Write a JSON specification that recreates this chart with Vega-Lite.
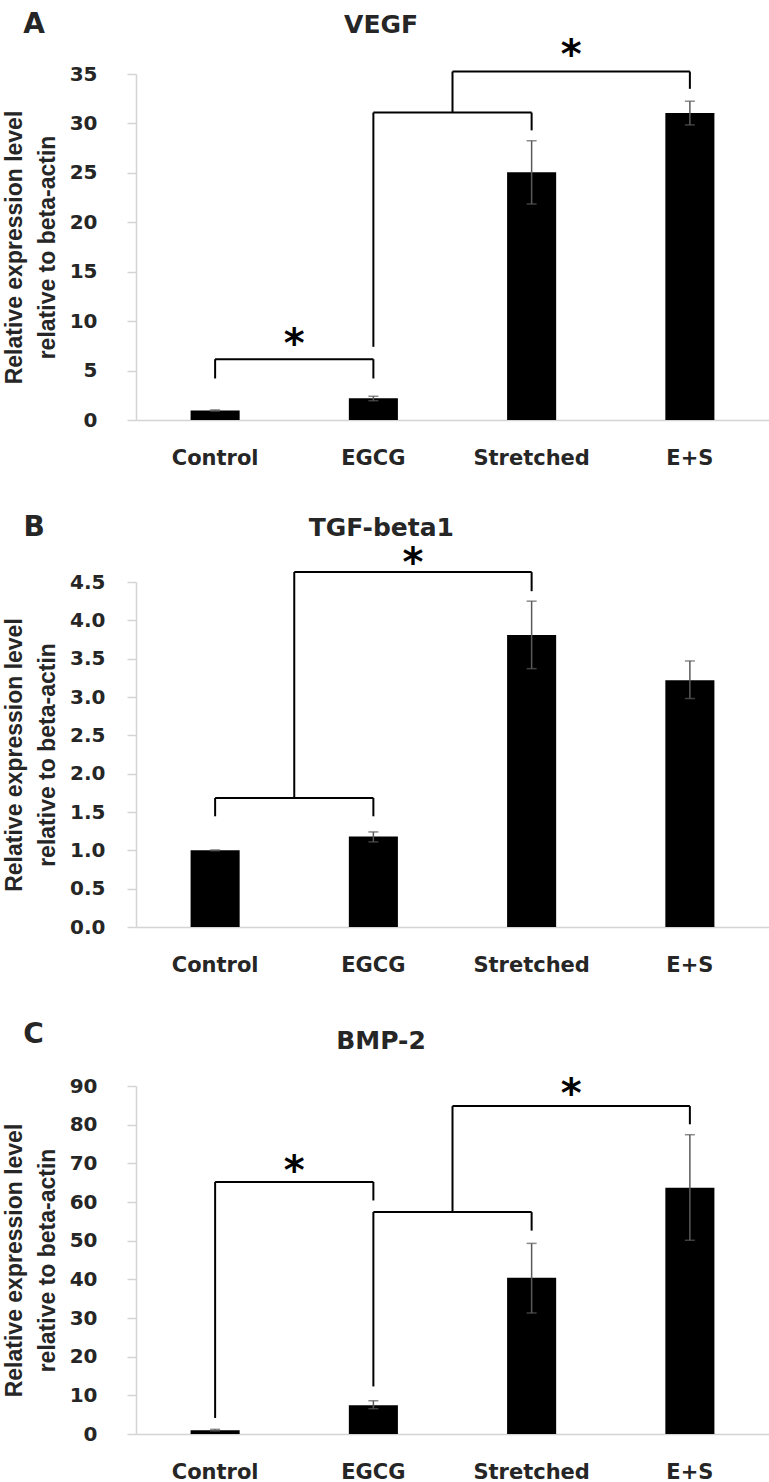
{
  "$schema": "https://vega.github.io/schema/vega-lite/v6.json",
  "padding": {"left": 3, "top": 11, "right": 2, "bottom": 2},
  "background": "white",
  "spacing": 46,
  "vconcat": [
    {
      "title": {"text": "A", "anchor": "start", "fontSize": 28, "offset": -26, "dx": 20},
      "vconcat": [
        {
          "title": {"text": "VEGF", "offset": -2, "dx": -5},
          "width": 633,
          "height": 346,
          "encoding": {
            "x": {"field": "g", "type": "nominal", "scale": {"domain": ["Control", "EGCG", "Stretched", "E+S"], "paddingInner": 0.69, "paddingOuter": 0.345}, "axis": {"title": null}},
            "y": {"field": "y", "type": "quantitative", "scale": {"domain": [0, 35], "nice": false}, "axis": {"title": ["Relative expression level", "relative to beta-actin"], "values": [0, 5, 10, 15, 20, 25, 30, 35], "labelPadding": 30}}
          },
          "layer": [
            {
              "data": {"values": [
                {"g": "Control", "y": 0.95},
                {"g": "EGCG", "y": 2.2},
                {"g": "Stretched", "y": 25.05},
                {"g": "E+S", "y": 31.05}
              ]},
              "mark": {"type": "bar", "color": "black"}
            },
            {
              "data": {"values": [
                {"g": "Control", "y": 0.9, "y2": 1.02},
                {"g": "EGCG", "y": 1.95, "y2": 2.4},
                {"g": "Stretched", "y": 21.85, "y2": 28.25},
                {"g": "E+S", "y": 29.85, "y2": 32.25}
              ]},
              "mark": {"type": "errorbar", "ticks": true, "size": 10, "thickness": 1.5, "color": "#5a5a5a"},
              "encoding": {"y2": {"field": "y2"}}
            },
            {
              "data": {"values": [
                {"g": "Control", "g2": "EGCG", "y": 6.15},
                {"g": "EGCG", "g2": "Stretched", "y": 31.1}
              ]},
              "mark": {"type": "rule", "color": "black", "strokeWidth": 2},
              "encoding": {"x2": {"field": "g2"}}
            },
            {
              "data": {"values": [
                {"g": "Control", "y": 4.2, "y2": 6.15},
                {"g": "EGCG", "y": 4.2, "y2": 6.15},
                {"g": "EGCG", "y": 7.4, "y2": 31.1},
                {"g": "Stretched", "y": 29.3, "y2": 31.1},
                {"g": "E+S", "y": 33.5, "y2": 35.25}
              ]},
              "mark": {"type": "rule", "color": "black", "strokeWidth": 2},
              "encoding": {"y2": {"field": "y2"}}
            },
            {
              "data": {"values": [
                {"g": "EGCG", "y": 31.1, "y2": 35.25}
              ]},
              "mark": {"type": "rule", "color": "black", "strokeWidth": 2},
              "encoding": {
                "x": {"field": "g", "type": "nominal", "bandPosition": 2.113, "scale": {"domain": ["Control", "EGCG", "Stretched", "E+S"], "paddingInner": 0.69, "paddingOuter": 0.345}, "axis": {"title": null}},
                "y2": {"field": "y2"}
              }
            },
            {
              "data": {"values": [
                {"g": "EGCG", "g2": "E+S", "y": 35.25}
              ]},
              "mark": {"type": "rule", "color": "black", "strokeWidth": 2},
              "encoding": {
                "x": {"field": "g", "type": "nominal", "bandPosition": 2.113, "scale": {"domain": ["Control", "EGCG", "Stretched", "E+S"], "paddingInner": 0.69, "paddingOuter": 0.345}, "axis": {"title": null}},
                "x2": {"field": "g2", "bandPosition": 0.5}
              }
            },
            {
              "data": {"values": [
                {"g": "Control", "y": 8.2, "s": "*"}
              ]},
              "mark": {"type": "text", "font": "DejaVu Sans", "fontWeight": "bold", "fontSize": 40, "baseline": "middle", "dy": 6, "color": "black"},
              "encoding": {
                "x": {"field": "g", "type": "nominal", "bandPosition": 2.113, "scale": {"domain": ["Control", "EGCG", "Stretched", "E+S"], "paddingInner": 0.69, "paddingOuter": 0.345}, "axis": {"title": null}},
                "text": {"field": "s"}
              }
            },
            {
              "data": {"values": [
                {"g": "Stretched", "y": 37.4, "s": "*"}
              ]},
              "mark": {"type": "text", "font": "DejaVu Sans", "fontWeight": "bold", "fontSize": 40, "baseline": "middle", "dy": 6, "color": "black"},
              "encoding": {
                "x": {"field": "g", "type": "nominal", "bandPosition": 1.306, "scale": {"domain": ["Control", "EGCG", "Stretched", "E+S"], "paddingInner": 0.69, "paddingOuter": 0.345}, "axis": {"title": null}},
                "text": {"field": "s"}
              }
            }
          ]
        }
      ]
    },
    {
      "title": {"text": "B", "anchor": "start", "fontSize": 28, "offset": -26, "dx": 20},
      "vconcat": [
        {
          "title": {"text": "TGF-beta1", "offset": 3, "dx": -5},
          "width": 633,
          "height": 345,
          "encoding": {
            "x": {"field": "g", "type": "nominal", "scale": {"domain": ["Control", "EGCG", "Stretched", "E+S"], "paddingInner": 0.69, "paddingOuter": 0.345}, "axis": {"title": null}},
            "y": {"field": "y", "type": "quantitative", "scale": {"domain": [0, 4.5], "nice": false}, "axis": {"title": ["Relative expression level", "relative to beta-actin"], "values": [0, 0.5, 1, 1.5, 2, 2.5, 3, 3.5, 4, 4.5], "format": ".1f", "labelPadding": 22}}
          },
          "layer": [
            {
              "data": {"values": [
                {"g": "Control", "y": 1.0},
                {"g": "EGCG", "y": 1.18},
                {"g": "Stretched", "y": 3.81},
                {"g": "E+S", "y": 3.22}
              ]},
              "mark": {"type": "bar", "color": "black"}
            },
            {
              "data": {"values": [
                {"g": "Control", "y": 0.995, "y2": 1.005},
                {"g": "EGCG", "y": 1.11, "y2": 1.24},
                {"g": "Stretched", "y": 3.37, "y2": 4.25},
                {"g": "E+S", "y": 2.98, "y2": 3.47}
              ]},
              "mark": {"type": "errorbar", "ticks": true, "size": 10, "thickness": 1.5, "color": "#5a5a5a"},
              "encoding": {"y2": {"field": "y2"}}
            },
            {
              "data": {"values": [
                {"g": "Control", "g2": "EGCG", "y": 1.683}
              ]},
              "mark": {"type": "rule", "color": "black", "strokeWidth": 2},
              "encoding": {"x2": {"field": "g2"}}
            },
            {
              "data": {"values": [
                {"g": "Control", "y": 1.444, "y2": 1.683},
                {"g": "EGCG", "y": 1.444, "y2": 1.683},
                {"g": "Stretched", "y": 4.38, "y2": 4.63}
              ]},
              "mark": {"type": "rule", "color": "black", "strokeWidth": 2},
              "encoding": {"y2": {"field": "y2"}}
            },
            {
              "data": {"values": [
                {"g": "Control", "y": 1.683, "y2": 4.63}
              ]},
              "mark": {"type": "rule", "color": "black", "strokeWidth": 2},
              "encoding": {
                "x": {"field": "g", "type": "nominal", "bandPosition": 2.113, "scale": {"domain": ["Control", "EGCG", "Stretched", "E+S"], "paddingInner": 0.69, "paddingOuter": 0.345}, "axis": {"title": null}},
                "y2": {"field": "y2"}
              }
            },
            {
              "data": {"values": [
                {"g": "Control", "g2": "Stretched", "y": 4.63}
              ]},
              "mark": {"type": "rule", "color": "black", "strokeWidth": 2},
              "encoding": {
                "x": {"field": "g", "type": "nominal", "bandPosition": 2.113, "scale": {"domain": ["Control", "EGCG", "Stretched", "E+S"], "paddingInner": 0.69, "paddingOuter": 0.345}, "axis": {"title": null}},
                "x2": {"field": "g2", "bandPosition": 0.5}
              }
            },
            {
              "data": {"values": [
                {"g": "EGCG", "y": 4.81, "s": "*"}
              ]},
              "mark": {"type": "text", "font": "DejaVu Sans", "fontWeight": "bold", "fontSize": 40, "baseline": "middle", "dy": 6, "color": "black"},
              "encoding": {
                "x": {"field": "g", "type": "nominal", "bandPosition": 1.306, "scale": {"domain": ["Control", "EGCG", "Stretched", "E+S"], "paddingInner": 0.69, "paddingOuter": 0.345}, "axis": {"title": null}},
                "text": {"field": "s"}
              }
            }
          ]
        }
      ]
    },
    {
      "title": {"text": "C", "anchor": "start", "fontSize": 28, "offset": -20, "dx": 20},
      "vconcat": [
        {
          "title": {"text": "BMP-2", "offset": 21, "dx": -5},
          "width": 633,
          "height": 348,
          "encoding": {
            "x": {"field": "g", "type": "nominal", "scale": {"domain": ["Control", "EGCG", "Stretched", "E+S"], "paddingInner": 0.69, "paddingOuter": 0.345}, "axis": {"title": null}},
            "y": {"field": "y", "type": "quantitative", "scale": {"domain": [0, 90], "nice": false}, "axis": {"title": ["Relative expression level", "relative to beta-actin"], "values": [0, 10, 20, 30, 40, 50, 60, 70, 80, 90], "labelPadding": 30}}
          },
          "layer": [
            {
              "data": {"values": [
                {"g": "Control", "y": 1.0},
                {"g": "EGCG", "y": 7.45},
                {"g": "Stretched", "y": 40.4},
                {"g": "E+S", "y": 63.7}
              ]},
              "mark": {"type": "bar", "color": "black"}
            },
            {
              "data": {"values": [
                {"g": "Control", "y": 0.8, "y2": 1.2},
                {"g": "EGCG", "y": 6.55, "y2": 8.6},
                {"g": "Stretched", "y": 31.3, "y2": 49.3},
                {"g": "E+S", "y": 50.1, "y2": 77.4}
              ]},
              "mark": {"type": "errorbar", "ticks": true, "size": 10, "thickness": 1.5, "color": "#5a5a5a"},
              "encoding": {"y2": {"field": "y2"}}
            },
            {
              "data": {"values": [
                {"g": "Control", "g2": "EGCG", "y": 65.2},
                {"g": "EGCG", "g2": "Stretched", "y": 57.4}
              ]},
              "mark": {"type": "rule", "color": "black", "strokeWidth": 2},
              "encoding": {"x2": {"field": "g2"}}
            },
            {
              "data": {"values": [
                {"g": "Control", "y": 4.15, "y2": 65.2},
                {"g": "EGCG", "y": 60.4, "y2": 65.2},
                {"g": "EGCG", "y": 12.3, "y2": 57.4},
                {"g": "Stretched", "y": 52.6, "y2": 57.4},
                {"g": "E+S", "y": 80.1, "y2": 84.8}
              ]},
              "mark": {"type": "rule", "color": "black", "strokeWidth": 2},
              "encoding": {"y2": {"field": "y2"}}
            },
            {
              "data": {"values": [
                {"g": "EGCG", "y": 57.4, "y2": 84.8}
              ]},
              "mark": {"type": "rule", "color": "black", "strokeWidth": 2},
              "encoding": {
                "x": {"field": "g", "type": "nominal", "bandPosition": 2.113, "scale": {"domain": ["Control", "EGCG", "Stretched", "E+S"], "paddingInner": 0.69, "paddingOuter": 0.345}, "axis": {"title": null}},
                "y2": {"field": "y2"}
              }
            },
            {
              "data": {"values": [
                {"g": "EGCG", "g2": "E+S", "y": 84.8}
              ]},
              "mark": {"type": "rule", "color": "black", "strokeWidth": 2},
              "encoding": {
                "x": {"field": "g", "type": "nominal", "bandPosition": 2.113, "scale": {"domain": ["Control", "EGCG", "Stretched", "E+S"], "paddingInner": 0.69, "paddingOuter": 0.345}, "axis": {"title": null}},
                "x2": {"field": "g2", "bandPosition": 0.5}
              }
            },
            {
              "data": {"values": [
                {"g": "Control", "y": 69.4, "s": "*"}
              ]},
              "mark": {"type": "text", "font": "DejaVu Sans", "fontWeight": "bold", "fontSize": 40, "baseline": "middle", "dy": 6, "color": "black"},
              "encoding": {
                "x": {"field": "g", "type": "nominal", "bandPosition": 2.113, "scale": {"domain": ["Control", "EGCG", "Stretched", "E+S"], "paddingInner": 0.69, "paddingOuter": 0.345}, "axis": {"title": null}},
                "text": {"field": "s"}
              }
            },
            {
              "data": {"values": [
                {"g": "Stretched", "y": 89.1, "s": "*"}
              ]},
              "mark": {"type": "text", "font": "DejaVu Sans", "fontWeight": "bold", "fontSize": 40, "baseline": "middle", "dy": 6, "color": "black"},
              "encoding": {
                "x": {"field": "g", "type": "nominal", "bandPosition": 1.306, "scale": {"domain": ["Control", "EGCG", "Stretched", "E+S"], "paddingInner": 0.69, "paddingOuter": 0.345}, "axis": {"title": null}},
                "text": {"field": "s"}
              }
            }
          ]
        }
      ]
    }
  ],
  "config": {
    "view": {"stroke": null},
    "font": "DejaVu Sans",
    "title": {"font": "DejaVu Sans", "fontSize": 25, "fontWeight": "bold", "color": "#262626", "frame": "bounds"},
    "axis": {
      "grid": false,
      "domainColor": "#d4d4d4",
      "domainWidth": 1.5,
      "tickColor": "#d4d4d4",
      "tickWidth": 1.5,
      "labelFont": "DejaVu Sans",
      "labelFontWeight": "bold",
      "labelColor": "#262626"
    },
    "axisY": {
      "tickSize": 9,
      "labelFontSize": 20,
      "titleFont": "Liberation Sans",
      "titleFontWeight": "bold",
      "titleFontSize": 23,
      "titleLineHeight": 33,
      "titleColor": "#262626",
      "titlePadding": 10
    },
    "axisX": {
      "ticks": false,
      "tickSize": 0,
      "labelAngle": 0,
      "labelFontSize": 21,
      "labelPadding": 27
    }
  }
}
